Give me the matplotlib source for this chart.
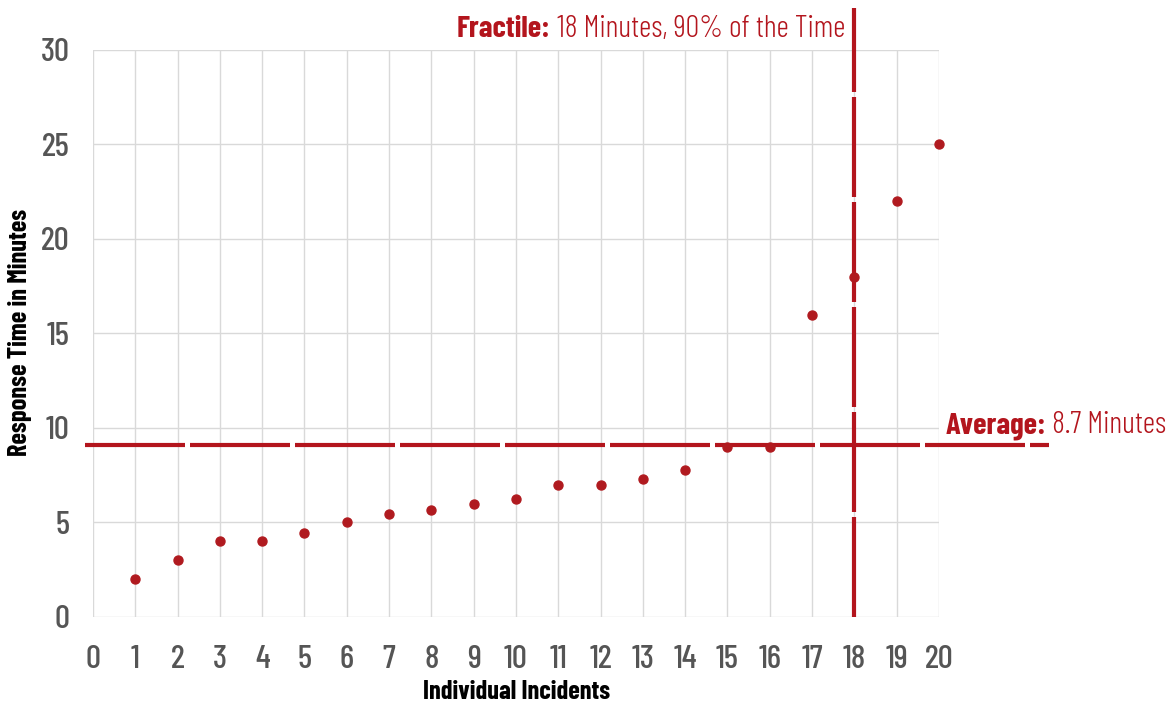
import matplotlib.pyplot as plt

RED = "#b3151d"
DOT = "#b01a1f"
GRID = "#d9d9d9"
TICK = "#555555"

incidents = list(range(1, 21))
response_minutes = [2, 3, 4, 4, 4.45, 5, 5.45, 5.65, 6, 6.25,
                    7, 7, 7.3, 7.8, 9, 9, 16, 18, 22, 25]
average_line = 9.1
fractile_x = 18
x_ticks = list(range(0, 21))
y_ticks = [0, 5, 10, 15, 20, 25, 30]

plt.rcParams["font.family"] = ["Barlow Condensed", "Roboto Condensed", "DejaVu Sans"]

fig = plt.figure(figsize=(11.67, 7.04), dpi=100, facecolor="white")
ax = fig.add_axes([0.0797, 0.1236, 0.7249, 0.8054])
ax.set_xlim(0, 20)
ax.set_ylim(0, 30)
for s in ax.spines.values():
    s.set_visible(False)

ax.set_xticks(x_ticks)
ax.set_yticks(y_ticks)
ax.grid(True, color=GRID, lw=1)
ax.set_axisbelow(True)
ax.tick_params(length=0, labelsize=24, labelcolor=TICK)
ax.tick_params(axis="x", pad=20)
ax.tick_params(axis="y", pad=17)
for lab in ax.get_xticklabels() + ax.get_yticklabels():
    lab.set_fontweight(500)

# axis titles placed in figure pixels
fig.text(517 / 1167, 1 - 692 / 704, "Individual Incidents", fontsize=19, weight="bold",
         ha="center", va="center")
fig.text(20 / 1167, 1 - 332 / 704, "Response Time in Minutes", fontsize=19, weight="bold",
         ha="center", va="center", rotation=90)

ax.plot([-0.2, 22.6], [average_line, average_line], color=RED, lw=3,
        dashes=(24, 1.2), clip_on=False, zorder=3)
ax.plot([fractile_x, fractile_x], [0, 32.2], color=RED, lw=3,
        dashes=(24, 1.2), clip_on=False, zorder=3)

ax.scatter(incidents, response_minutes, s=42, color=DOT, zorder=4, clip_on=False)

# mixed bold / regular annotations
fig.canvas.draw()
r = fig.canvas.get_renderer()
px_to_fig = fig.transFigure.inverted()

t_frac = fig.text(845 / 1167, 1 - 37 / 704, " 18 Minutes, 90% of the Time", color=RED,
                  fontsize=22, weight=300, ha="right", va="baseline")
bb = t_frac.get_window_extent(r)
fig.text(px_to_fig.transform((bb.x0, 0))[0], 1 - 37 / 704, "Fractile:", color=RED,
         fontsize=22, weight="bold", ha="right", va="baseline")

t_avg = fig.text(946 / 1167, 1 - 433 / 704, "Average:", color=RED,
                 fontsize=22, weight="bold", ha="left", va="baseline")
bb = t_avg.get_window_extent(r)
fig.text(px_to_fig.transform((bb.x1, 0))[0], 1 - 433 / 704, " 8.7 Minutes", color=RED,
         fontsize=22, weight=300, ha="left", va="baseline")

fig.savefig("out.png", dpi=100, facecolor="white")
plt.close(fig)
